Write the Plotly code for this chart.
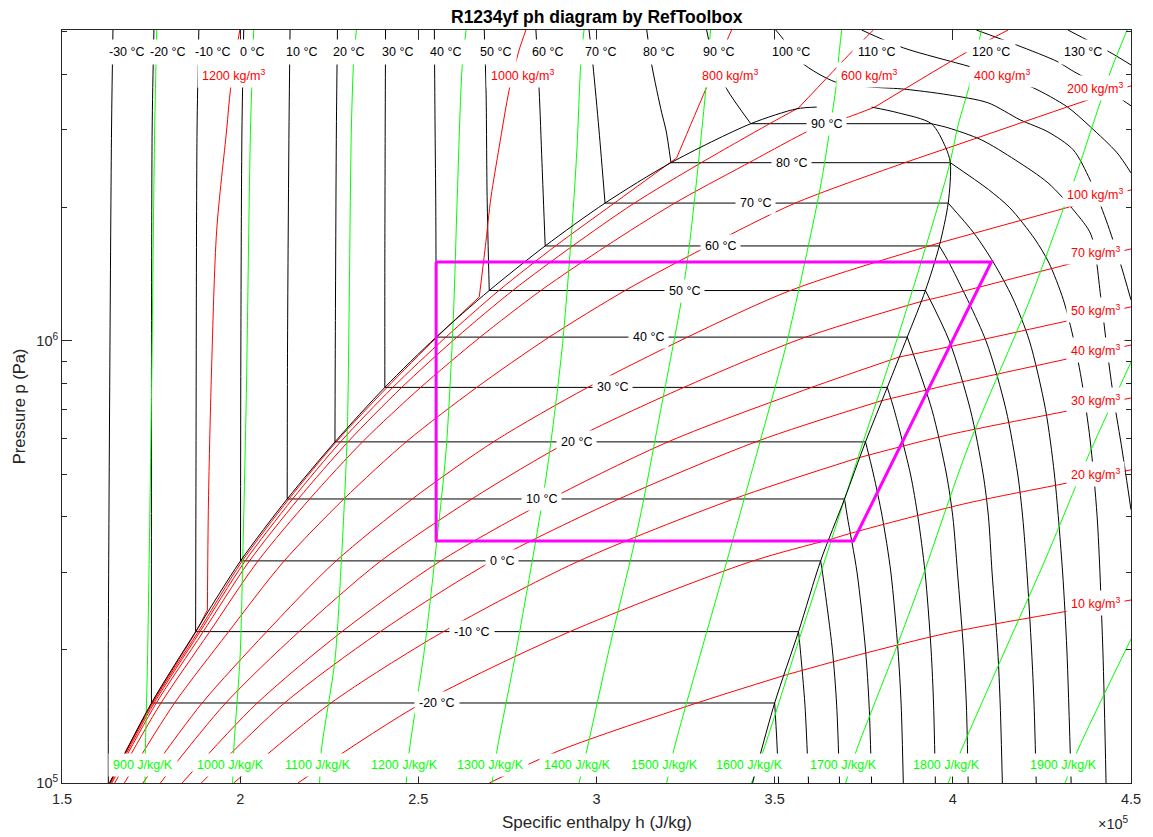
import numpy as np
import plotly.graph_objects as go

# ---------------- data (h in kJ/kg, p in bar) ----------------
sat_T = [-20, -10, 0, 10, 20, 30, 40, 50, 60, 70, 80, 90]
sat_p = [1.517, 2.20, 3.18, 4.39, 5.91, 7.85, 10.2, 13.0, 16.4, 20.5, 25.3, 31.0]
sat_hl = [175.1, 187.5, 200.1, 213.2, 226.6, 240.6, 255.0, 269.9, 285.6, 302.4, 320.9, 343.3]
sat_hv = [350.0, 356.7, 362.9, 369.6, 375.5, 381.6, 387.2, 392.3, 396.2, 398.7, 399.3, 394.0]

dome_liq_h = [163.4, 175.1, 187.5, 200.1, 213.2, 226.6, 240.6, 255.0, 269.9, 285.6, 302.4, 320.9, 343.3, 356.2, 361.8]
dome_liq_p = [1.0, 1.517, 2.20, 3.18, 4.39, 5.91, 7.85, 10.2, 13.0, 16.4, 20.5, 25.3, 31.0, 33.5, 33.8]
dome_vap_h = [377.2, 384.7, 394.0, 397.9, 399.3, 398.7, 396.2, 392.3, 387.2, 381.6, 375.5, 369.6, 362.9, 356.7, 350.0, 343.8]
dome_vap_p = [33.8, 32.8, 31.0, 27.5, 25.3, 20.5, 16.4, 13.0, 10.2, 7.85, 5.91, 4.39, 3.18, 2.20, 1.517, 1.0]

# isotherms: compressed-liquid branch (from saturation up to the top)
iso_liq_h = {
    -30: [163.0, 163.0, 163.9, 164.3],
    -20: [175.1, 175.1, 175.3, 175.8],
    -10: [187.5, 187.6, 187.9, 188.4],
    0: [200.1, 200.2, 200.5, 201.0],
    10: [213.2, 213.3, 213.7, 214.0],
    20: [226.6, 226.7, 227.0, 227.3],
    30: [240.6, 240.6, 240.7, 240.8],
    40: [255.0, 254.9, 254.7, 254.5],
    50: [269.9, 269.3, 269.0, 268.5],
    60: [285.6, 284.7, 283.9, 283.0],
    70: [302.4, 300.7, 299.0, 297.9],
    80: [320.9, 319.5, 318.3, 315.5, 314.1],
    90: [343.3, 336.5, 332.9, 330.9],
}
iso_liq_p = {
    -30: [1.0, 2.0, 30.0, 50.5],
    -20: [1.517, 5.0, 30.0, 50.5],
    -10: [2.20, 5.0, 30.0, 50.5],
    0: [3.18, 10.0, 30.0, 50.5],
    10: [4.39, 10.0, 30.0, 50.5],
    20: [5.91, 10.0, 30.0, 50.5],
    30: [7.85, 15.0, 30.0, 50.5],
    40: [10.2, 20.0, 30.0, 50.5],
    50: [13.0, 21.2, 37.0, 50.5],
    60: [16.4, 25.3, 37.0, 50.5],
    70: [20.5, 30.0, 42.1, 50.5],
    80: [25.3, 30.0, 32.8, 42.1, 50.5],
    90: [31.0, 37.2, 43.2, 50.5],
}
# isotherms: superheated / supercritical branch
iso_vap_h = {
    -20: [350.0, 350.6, 351.1],
    -10: [356.7, 357.2, 358.5, 359.5],
    0: [362.9, 363.4, 366.2, 367.4, 368.2],
    10: [369.6, 370.4, 373.1, 375.5, 376.5, 377.2],
    20: [375.5, 377.7, 380.2, 382.6, 384.6, 385.5, 386.1],
    30: [381.6, 383.5, 388.1, 390.2, 392.2, 393.9, 394.6, 395.1],
    40: [387.2, 394.1, 398.2, 400.0, 401.3, 403.0, 403.8, 404.3],
    50: [392.3, 399.0, 404.9, 408.5, 410.0, 411.0, 412.6, 413.3, 413.9],
    60: [396.2, 399.0, 409.3, 414.9, 418.2, 419.6, 420.8, 422.1, 422.8, 423.4],
    70: [398.7, 406.0, 411.5, 416.8, 421.5, 426.0, 428.5, 430.8, 432.0, 433.2],
    80: [399.3, 410.0, 416.0, 423.0, 427.0, 431.0, 434.0, 436.3, 438.5, 440.5, 442.1, 443.0],
    90: [394.0, 398.7, 408.0, 417.5, 426.7, 434.3, 438.8, 441.6, 443.3, 445.2, 447.5, 450.0],
    100: [350.3, 351.9, 357.6, 367.1, 376.3, 385.6, 398.7, 409.9, 418.9, 426.7, 433.8, 438.5, 443.0, 446.9, 450.0],
    110: [374.4, 386.1, 404.9, 414.8, 422.6, 432.1, 438.6, 446.1, 450.0],
    120: [406.6, 417.8, 429.5, 433.2, 440.7, 446.3, 450.0],
    130: [432.3, 443.9, 450.0],
}
iso_vap_p = {
    -20: [1.517, 1.25, 1.0],
    -10: [2.20, 2.0, 1.5, 1.0],
    0: [3.18, 3.0, 2.0, 1.5, 1.0],
    10: [4.39, 4.0, 3.0, 2.0, 1.5, 1.0],
    20: [5.91, 5.0, 4.0, 3.0, 2.0, 1.5, 1.0],
    30: [7.85, 7.0, 5.0, 4.0, 3.0, 2.0, 1.5, 1.0],
    40: [10.2, 7.0, 5.0, 4.0, 3.0, 2.0, 1.5, 1.0],
    50: [13.0, 10.0, 7.0, 5.0, 4.0, 3.0, 2.0, 1.5, 1.0],
    60: [16.4, 15.0, 10.0, 7.0, 5.0, 4.0, 3.0, 2.0, 1.5, 1.0],
    70: [20.5, 17.5, 15.0, 12.5, 10.0, 7.0, 5.0, 3.0, 2.0, 1.0],
    80: [25.3, 22.0, 20.0, 17.0, 15.0, 12.4, 10.0, 8.0, 6.0, 4.0, 2.0, 1.0],
    90: [31.0, 30.34, 28.5, 25.67, 22.78, 19.58, 17.37, 12.4, 9.54, 7.36, 5.67, 4.15],
    100: [50.5, 48.73, 42.6, 38.5, 37.56, 37.16, 36.03, 34.56, 31.62, 29.71, 27.05, 23.14, 18.78, 15.09, 12.38],
    110: [50.5, 46.02, 41.7, 39.36, 37.36, 33.84, 30.5, 26.63, 23.99],
    120: [50.5, 46.74, 42.78, 41.0, 37.95, 35.65, 34.02],
    130: [50.5, 45.06, 42.1],
}
top_T_labels = [-30, -20, -10, 0, 10, 20, 30, 40, 50, 60, 70, 80, 90, 100, 110, 120, 130]
dome_T_label_h = [255.3, 265.1, 273.5, 284.7, 294.5, 304.6, 314.7, 324.8, 334.9, 344.7, 354.8, 364.6]

# isochores (kg/m3)
rho_h = {
    10: [269.9, 290.05, 327.3, 353.1, 373.5, 398.7, 430.9, 450.0],
    20: [216.2, 250.6, 291.7, 343.0, 365.1, 372.7, 404.3, 430.9, 450.0],
    30: [198.2, 225.1, 256.4, 294.5, 338.5, 373.5, 398.7, 430.9, 450.0],
    40: [189.1, 212.1, 238.8, 270.3, 306.3, 345.4, 379.9, 398.7, 430.9, 450.0],
    50: [183.7, 204.5, 228.1, 255.8, 287.1, 320.7, 360.0, 385.0, 398.7, 430.9, 450.0],
    70: [177.6, 195.7, 216.1, 239.1, 265.0, 292.6, 324.2, 358.1, 391.7, 398.7, 431.8, 450.0],
    100: [172.7, 189.1, 207.1, 226.6, 248.3, 271.5, 297.3, 325.1, 354.8, 396.2, 431.8, 450.0],
    200: [167.5, 181.4, 196.5, 212.1, 229.1, 246.9, 266.2, 286.4, 308.3, 331.4, 355.3, 384.7, 398.7, 437.1, 450.0],
    400: [164.8, 177.6, 191.2, 204.8, 219.5, 234.6, 250.5, 267.1, 284.6, 302.8, 321.6, 341.6, 363.7, 370.7, 378.2, 403.5, 415.5],
    600: [164.0, 176.3, 189.4, 202.4, 216.3, 230.5, 245.2, 260.6, 276.7, 293.3, 310.3, 328.3, 348.5, 356.7, 371.6, 377.7],
    800: [163.7, 175.7, 188.5, 201.2, 214.7, 228.4, 242.7, 257.5, 272.8, 288.5, 304.7, 322.5, 330.6, 337.9],
    1000: [163.4, 175.3, 188.0, 200.4, 213.7, 227.2, 241.1, 255.0, 267.1, 268.8, 270.4, 272.7, 275.5, 278.3, 280.2],
    1200: [163.3, 175.1, 187.6, 190.8, 191.1, 192.0, 193.4, 196.2, 197.3, 199.9],
}
rho_p = {
    10: [1.0, 1.188, 1.509, 1.755, 1.948, 2.185, 2.437, 2.594],
    20: [1.0, 1.509, 2.185, 3.162, 3.546, 3.698, 4.30, 4.75, 5.11],
    30: [1.0, 1.509, 2.185, 3.162, 4.39, 5.44, 6.13, 6.91, 7.43],
    40: [1.0, 1.509, 2.185, 3.162, 4.39, 5.94, 7.32, 7.95, 9.06, 9.79],
    50: [1.0, 1.509, 2.185, 3.162, 4.39, 5.94, 7.83, 9.20, 9.69, 11.04, 11.94],
    70: [1.0, 1.509, 2.185, 3.162, 4.39, 5.94, 7.83, 10.16, 12.32, 12.7, 14.86, 16.15],
    100: [1.0, 1.509, 2.185, 3.162, 4.39, 5.94, 7.83, 10.16, 13.04, 16.66, 20.0, 21.96],
    200: [1.0, 1.509, 2.185, 3.162, 4.39, 5.94, 7.83, 10.16, 13.04, 16.4, 20.42, 25.0, 27.33, 34.9, 37.76],
    400: [1.0, 1.509, 2.185, 3.162, 4.39, 5.94, 7.83, 10.16, 13.04, 16.4, 20.42, 25.0, 30.97, 32.1, 33.84, 44.8, 50.5],
    600: [1.0, 1.509, 2.185, 3.162, 4.39, 5.94, 7.83, 10.16, 13.04, 16.4, 20.42, 25.0, 30.97, 33.66, 45.06, 50.5],
    800: [1.0, 1.509, 2.185, 3.162, 4.39, 5.94, 7.83, 10.16, 13.04, 16.4, 20.42, 25.94, 36.98, 50.5],
    1000: [1.0, 1.509, 2.185, 3.162, 4.39, 5.94, 7.83, 10.16, 12.58, 16.32, 21.17, 27.47, 36.98, 45.53, 50.5],
    1200: [1.0, 1.509, 2.20, 2.462, 4.32, 8.78, 17.74, 30.0, 37.16, 50.5],
}
# index of the point where each isochore meets the saturation line
rho_sat_index = {10: 3, 20: 4, 30: 5, 40: 6, 50: 7, 70: 8, 100: 9, 200: 12,
                 400: 14, 600: 13, 800: 11, 1000: 8, 1200: 3}
rho_label_pos = {  # label centre (h kJ/kg, p bar)
    10: (439.9, 2.554), 20: (439.9, 5.0), 30: (439.9, 7.36), 40: (439.9, 9.54),
    50: (439.9, 11.75), 70: (439.9, 15.9), 100: (439.9, 21.5), 200: (439.9, 37.36),
    400: (413.8, 40.0), 600: (376.6, 40.0), 800: (337.5, 40.0), 1000: (279.1, 40.0), 1200: (198.2, 40.0),
}

# isentropes (J/kg/K)
s_h = {
    900: [176.6, 176.0, 175.1, 174.0, 173.4, 173.3],
    1000: [203.8, 202.9, 201.7, 200.7, 200.0, 198.2, 197.9],
    1100: [232.6, 231.8, 231.2, 230.1, 229.3, 228.4, 226.6, 222.8, 222.3],
    1200: [263.4, 262.3, 260.9, 259.8, 257.8, 255.3, 251.7, 247.5, 246.6],
    1300: [296.5, 295.6, 294.5, 293.1, 290.3, 285.6, 277.5, 272.1, 270.7],
    1400: [332.0, 330.6, 328.1, 325.9, 323.7, 317.5, 311.9, 303.5, 297.3, 295.1],
    1500: [368.8, 367.9, 367.4, 363.2, 360.4, 353.1, 345.5, 335.1, 329.5, 321.7, 319.7],
    1600: [408.0, 404.9, 401.5, 398.7, 386.1, 374.1, 362.3, 355.9, 346.9, 343.5],
    1700: [448.9, 444.4, 441.6, 434.3, 430.9, 421.6, 404.3, 391.2, 383.9, 373.0, 369.9],
    1800: [450.3, 437.9, 434.3, 425.9, 414.7, 402.4, 398.7],
    1900: [450.3, 435.1, 431.5],
}
s_p = {
    900: [50.5, 30.0, 7.36, 1.9, 1.188, 1.0],
    1000: [50.5, 30.0, 7.36, 3.16, 1.948, 1.188, 1.0],
    1100: [50.5, 42.1, 30.0, 6.36, 4.41, 3.18, 1.898, 1.188, 1.0],
    1200: [50.5, 41.7, 20.84, 11.16, 5.67, 3.60, 2.0, 1.188, 1.0],
    1300: [50.5, 42.6, 27.05, 18.02, 9.54, 4.77, 2.0, 1.188, 1.0],
    1400: [50.5, 36.6, 23.14, 16.07, 12.19, 6.63, 3.875, 2.0, 1.188, 1.0],
    1500: [50.5, 43.2, 38.5, 23.14, 17.83, 9.69, 5.76, 2.88, 2.0, 1.188, 1.0],
    1600: [50.5, 38.5, 30.8, 24.37, 11.16, 5.67, 2.88, 2.0, 1.188, 1.0],
    1700: [50.5, 41.0, 35.1, 23.38, 19.79, 12.38, 5.76, 2.88, 2.0, 1.188, 1.0],
    1800: [9.06, 5.47, 4.65, 3.196, 2.0, 1.188, 1.0],
    1900: [2.14, 1.188, 1.0],
}

# refrigeration cycle
cycle_h = [255.0, 410.8, 372.1, 255.0, 255.0]
cycle_p = [15.09, 15.09, 3.527, 3.527, 15.09]

# ---------------- figure ----------------
fig = go.Figure()
BLACK, RED, GREEN, MAG = "#000000", "#FF0000", "#00FF00", "#FF00FF"
AX = "#262626"


def curve(h, p, color, width=1.0, shape="spline"):
    fig.add_trace(go.Scatter(
        x=[v * 1e3 for v in h], y=[v * 1e5 for v in p], mode="lines",
        line=dict(color=color, width=width, shape=shape, smoothing=0.8),
        hoverinfo="skip", showlegend=False))


def label(h, p, text, color, xanchor="center", xshift=0, size=12.5, pad=4):
    fig.add_annotation(x=h * 1e3, y=np.log10(p * 1e5), text=text, showarrow=False,
                       font=dict(color=color, size=size), bgcolor="white", borderpad=pad,
                       xanchor=xanchor, yanchor="middle", xshift=xshift)


# isotherms
for T in iso_liq_h:
    curve(iso_liq_h[T], iso_liq_p[T], BLACK)
for T, p, hl, hv in zip(sat_T, sat_p, sat_hl, sat_hv):
    curve([hl, hv], [p, p], BLACK, shape="linear")
for T in iso_vap_h:
    curve(iso_vap_h[T], iso_vap_p[T], BLACK)

# isochores (two smooth pieces, joined at the saturation line)
for r in rho_h:
    k = rho_sat_index[r]
    curve(rho_h[r][:k + 1], rho_p[r][:k + 1], RED)
    curve(rho_h[r][k:], rho_p[r][k:], RED)

# isentropes
for s in s_h:
    curve(s_h[s], s_p[s], GREEN)

# saturation dome
curve(dome_liq_h, dome_liq_p, BLACK)
curve(dome_vap_h, dome_vap_p, BLACK)

# cycle
curve(cycle_h, cycle_p, MAG, width=3, shape="linear")

# ---- labels ----
for T in top_T_labels:
    htop = iso_liq_h[T][-1] if T in iso_liq_h else iso_vap_h[T][0]
    label(htop, 45.06, f"{T} °C", BLACK, xanchor="left", xshift=-10, pad=5)

for T, p, hx in zip(sat_T, sat_p, dome_T_label_h):
    label(hx, p, f"{T} °C", BLACK, pad=4)

for r, (hx, px) in rho_label_pos.items():
    label(hx, px, f"{r} kg/m<sup>3</sup>", RED, pad=4)

for s in s_h:
    label(s_h[s][-1], 1.098, f"{s} J/kg/K", GREEN, xshift=-2, pad=4)

# titles
fig.add_annotation(x=0.5, y=1.0173, xref="paper", yref="paper", showarrow=False,
                   xanchor="center", yanchor="middle",
                   text="<b>R1234yf ph diagram by RefToolbox</b>", font=dict(size=17.5, color="#000000"))
fig.add_annotation(x=0.5, y=-0.0518, xref="paper", yref="paper", showarrow=False,
                   xanchor="center", yanchor="middle",
                   text="Specific enthalpy h (J/kg)", font=dict(size=17, color=AX))
fig.add_annotation(x=-0.0405, y=0.5, xref="paper", yref="paper", showarrow=False, textangle=-90,
                   xanchor="center", yanchor="middle",
                   text="Pressure p (Pa)", font=dict(size=16.5, color=AX))
fig.add_annotation(x=0.9832, y=-0.0531, xref="paper", yref="paper", showarrow=False,
                   xanchor="center", yanchor="middle",
                   text="×10<sup>5</sup>", font=dict(size=14.5, color=AX))

x_ticks = [150000, 200000, 250000, 300000, 350000, 400000, 450000]
x_ticktext = ["1.5", "2", "2.5", "3", "3.5", "4", "4.5"]
y_minor = [2e5, 3e5, 4e5, 5e5, 6e5, 7e5, 8e5, 9e5, 2e6, 3e6, 4e6, 5e6]

# page has an 8 px body margin: plot area is placed at x 62..1133, y 30..783 of the window
fig.update_layout(
    width=1145, height=829,
    margin=dict(l=54, r=20, t=22, b=54),
    paper_bgcolor="white", plot_bgcolor="white", showlegend=False,
    font=dict(family="Liberation Sans, Arial, Helvetica, sans-serif", color=AX),
)
fig.update_xaxes(range=[150000, 450000], tickvals=x_ticks, ticktext=x_ticktext,
                 ticks="inside", ticklen=10, tickcolor=AX, tickwidth=1,
                 showline=True, linecolor=AX, linewidth=1, mirror="ticks",
                 showgrid=False, zeroline=False, tickfont=dict(size=14.5), ticklabelstandoff=3)
fig.update_yaxes(type="log", range=[5, np.log10(5.05e6)], tickvals=[1e5, 1e6],
                 ticktext=["10<sup>5</sup>", "10<sup>6</sup>"],
                 ticks="inside", ticklen=10, tickcolor=AX, tickwidth=1,
                 minor=dict(ticks="inside", ticklen=5, tickvals=y_minor, tickcolor=AX, showgrid=False),
                 showline=True, linecolor=AX, linewidth=1, mirror="ticks",
                 showgrid=False, zeroline=False, tickfont=dict(size=14.5))

fig.write_html("out.html")
